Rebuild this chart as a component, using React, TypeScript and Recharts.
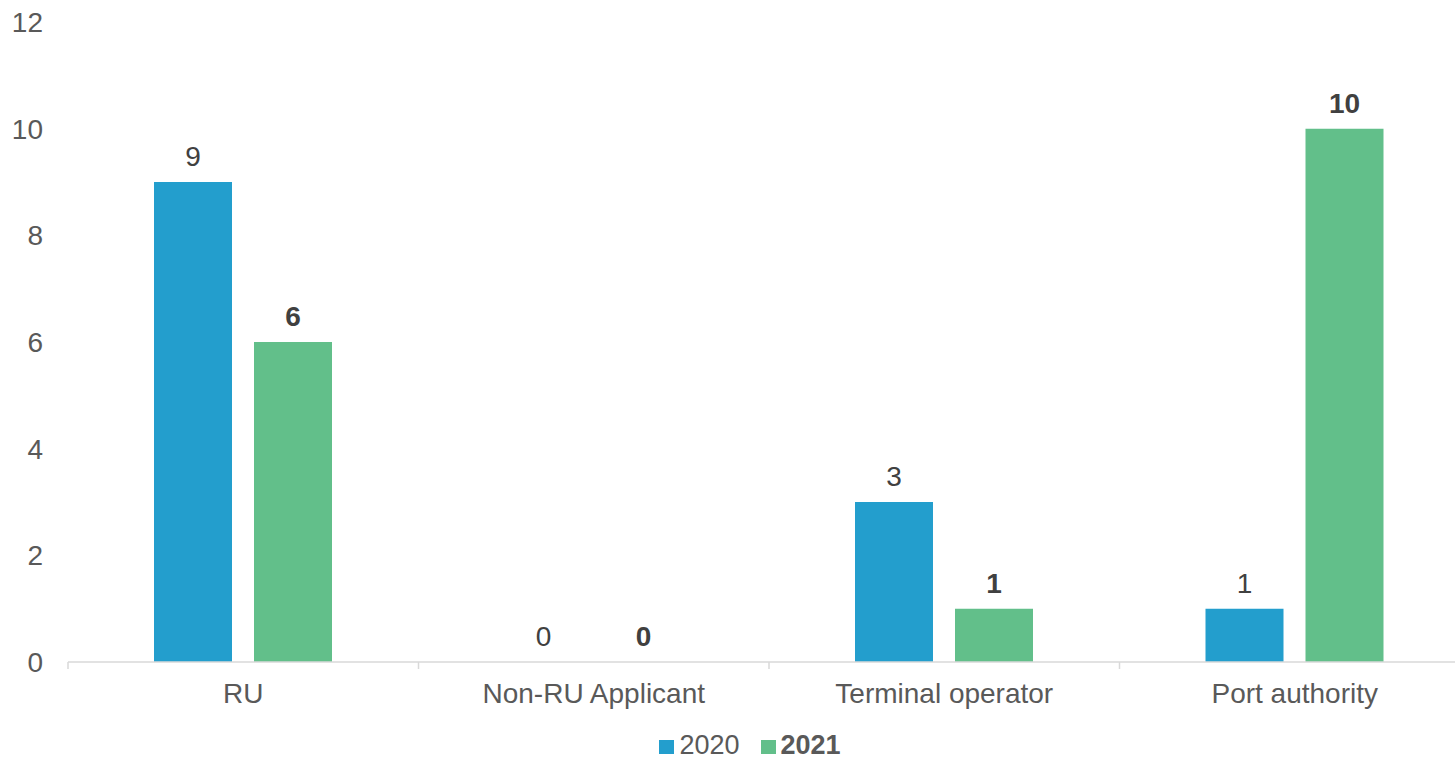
import { BarChart, Bar, XAxis, YAxis, Legend, LabelList } from 'recharts'

const categories = ['RU', 'Non-RU Applicant', 'Terminal operator', 'Port authority']
const values2020 = [9, 0, 3, 1]
const values2021 = [6, 0, 1, 10]
const yTicks = [0, 2, 4, 6, 8, 10, 12]

const BLUE = '#239ECD'
const GREEN = '#62BF8A'
const AXIS_TEXT = '#595959'
const LABEL_TEXT = '#404040'
const GRID = '#d9d9d9'
const FONT = '"Liberation Sans", Arial, sans-serif'
const X_TICK_MARGIN = 21

const data = categories.map((name, i) => ({
  name,
  y2020: values2020[i],
  y2021: values2021[i],
}))

// zero bars still need a rect so their "0" label gets drawn
const tinyForZero = (v: number) => (v === 0 ? 0.01 : 0)

function CategoryTick(props: any) {
  const { x, y, payload, index, visibleTicksCount } = props
  const half = payload?.offset ?? 0
  const axisY = y - X_TICK_MARGIN
  return (
    <g>
      <line x1={x - half} x2={x - half} y1={axisY} y2={axisY + 7} stroke={GRID} strokeWidth={1.5} />
      {index === visibleTicksCount - 1 && (
        <line x1={x + half} x2={x + half} y1={axisY} y2={axisY + 7} stroke={GRID} strokeWidth={1.5} />
      )}
      <text x={x} y={y} dy="0.71em" textAnchor="middle" fill={AXIS_TEXT} fontSize={28} fontFamily={FONT}>
        {payload.value}
      </text>
    </g>
  )
}

function LegendContent() {
  const items = [
    { label: '2020', color: BLUE, bold: false },
    { label: '2021', color: GREEN, bold: true },
  ]
  return (
    <div style={{ display: 'flex', justifyContent: 'center', alignItems: 'flex-start', height: 30, gap: 21 }}>
      {items.map(it => (
        <div key={it.label} style={{ display: 'flex', alignItems: 'flex-start', gap: 5 }}>
          <span style={{ display: 'inline-block', width: 15, height: 14, marginTop: 10, background: it.color }} />
          <span style={{ fontFamily: FONT, fontSize: 27, color: AXIS_TEXT, fontWeight: it.bold ? 700 : 400, lineHeight: 'normal' }}>
            {it.label}
          </span>
        </div>
      ))}
    </div>
  )
}

export default function App() {
  return (
    <div style={{ position: 'absolute', left: 0, top: 0, width: 1455, height: 761, overflow: 'hidden', background: '#fff' }}>
      <BarChart
        width={1500}
        height={761}
        data={data}
        margin={{ top: 22, right: 30, left: 0, bottom: 0 }}
        barSize={78}
        barGap={22}
      >
        <XAxis
          dataKey="name"
          height={69}
          axisLine={{ stroke: GRID, strokeWidth: 1.5 }}
          tickLine={false}
          tickSize={0}
          tickMargin={X_TICK_MARGIN}
          interval={0}
          tick={<CategoryTick />}
        />
        <YAxis
          width={68}
          domain={[0, 12]}
          ticks={yTicks}
          axisLine={false}
          tickLine={false}
          tickSize={0}
          tickMargin={25}
          tick={{ fill: AXIS_TEXT, fontSize: 28, fontFamily: FONT }}
        />
        <Legend
          verticalAlign="bottom"
          content={<LegendContent />}
          wrapperStyle={{ top: 730, bottom: 'auto', left: 0, width: 1500 }}
        />
        <Bar dataKey="y2020" name="2020" fill={BLUE} minPointSize={tinyForZero} isAnimationActive={false}>
          <LabelList dataKey="y2020" position="top" offset={16} fill={LABEL_TEXT} fontSize={28} fontFamily={FONT} />
        </Bar>
        <Bar dataKey="y2021" name="2021" fill={GREEN} minPointSize={tinyForZero} isAnimationActive={false}>
          <LabelList dataKey="y2021" position="top" offset={16} fill={LABEL_TEXT} fontSize={28} fontFamily={FONT} fontWeight={700} />
        </Bar>
      </BarChart>
    </div>
  )
}
